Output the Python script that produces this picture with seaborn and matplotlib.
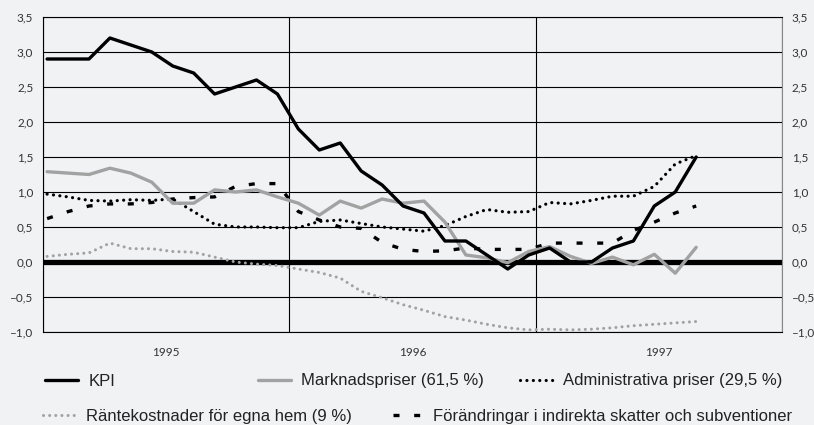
import numpy as np
import matplotlib.pyplot as plt
import seaborn as sns
from matplotlib.ticker import FixedLocator, FuncFormatter, NullFormatter

# monthly values, Jan 1995 - Aug 1997 (percent change)
kpi = [2.9, 2.9, 2.9, 3.2, 3.1, 3.0, 2.8, 2.7, 2.4, 2.5, 2.6, 2.4,
       1.9, 1.6, 1.7, 1.3, 1.1, 0.8, 0.7, 0.3, 0.3, 0.1, -0.1, 0.1,
       0.2, 0.0, 0.0, 0.2, 0.3, 0.8, 1.0, 1.5]
marknad = [1.29, 1.27, 1.25, 1.34, 1.27, 1.14, 0.84, 0.84, 1.03, 1.00, 1.03, 0.93,
           0.84, 0.67, 0.87, 0.77, 0.90, 0.84, 0.87, 0.57, 0.10, 0.06, -0.01, 0.15,
           0.22, 0.08, -0.02, 0.07, -0.04, 0.11, -0.16, 0.21]
admin = [0.97, 0.93, 0.88, 0.87, 0.89, 0.88, 0.90, 0.72, 0.54, 0.50, 0.50, 0.49,
         0.49, 0.58, 0.60, 0.55, 0.50, 0.47, 0.44, 0.52, 0.65, 0.75, 0.71, 0.72,
         0.85, 0.83, 0.88, 0.94, 0.94, 1.08, 1.40, 1.52]
ranta = [0.08, 0.11, 0.13, 0.27, 0.19, 0.19, 0.15, 0.14, 0.07, 0.00, -0.03, -0.05,
         -0.10, -0.15, -0.23, -0.42, -0.51, -0.61, -0.69, -0.78, -0.83, -0.89, -0.94, -0.97,
         -0.96, -0.97, -0.96, -0.94, -0.91, -0.89, -0.87, -0.85]
skatter = [0.62, 0.72, 0.80, 0.83, 0.83, 0.85, 0.90, 0.92, 0.93, 1.08, 1.12, 1.12,
           0.72, 0.60, 0.50, 0.48, 0.28, 0.18, 0.15, 0.16, 0.20, 0.18, 0.18, 0.18,
           0.27, 0.27, 0.27, 0.27, 0.45, 0.57, 0.70, 0.80]

years = ['1995', '1996', '1997']
labels = ['KPI', 'Marknadspriser (61,5 %)', 'Administrativa priser (29,5 %)',
          'Räntekostnader för egna hem (9 %)',
          'Förändringar i indirekta skatter och subventioner']

BG = '#f1f2f4'
GRAY = '#a2a2a2'

sns.set_style('white')
plt.rcParams['font.family'] = ['Lato', 'DejaVu Sans']

W, H = 814, 425
fig = plt.figure(figsize=(W / 100, H / 100), dpi=100, facecolor=BG)
ax = fig.add_axes([43 / W, 1 - 332 / H, (782 - 43) / W, (332 - 17) / H], facecolor=BG)

# category axis of the months sits on a year grid of 12 units per year
month_idx = np.arange(len(kpi))
xpos = 0.2 + month_idx * 1.02

ax.axhline(0, color='black', lw=3.8, zorder=1.5)

dot = dict(linestyle=(0, (0.01, 2.0)), dash_capstyle='round')
styles = [
    (ranta, dict(color=GRAY, lw=2.2, **dot)),
    (skatter, dict(color='black', lw=2.4, linestyle=(0, (1.8, 4.4)), dash_capstyle='butt')),
    (admin, dict(color='black', lw=2.3, **dot)),
    (marknad, dict(color=GRAY, lw=2.4, linestyle='-')),
    (kpi, dict(color='black', lw=2.4, linestyle='-')),
]
handles = {}
for name, (vals, kw) in zip([labels[3], labels[4], labels[2], labels[1], labels[0]], styles):
    sns.lineplot(x=xpos, y=vals, ax=ax, zorder=3, **kw)
    handles[name] = ax.lines[-1]

ax.set_xlim(0, 36)
ax.set_ylim(-1.0, 3.5)
ax.set_yticks(np.arange(-1.0, 3.51, 0.5))
ax.yaxis.set_major_formatter(FuncFormatter(lambda v, p: f'{v:.1f}'.replace('.', ',').replace('-', '–')))
ax.set_xticks([0, 12, 24, 36])
ax.xaxis.set_major_formatter(NullFormatter())
ax.xaxis.set_minor_locator(FixedLocator([6, 18, 30]))
ax.set_xticklabels(years, minor=True)

ax.grid(True, which='major', color='black', lw=0.8)
ax.set_axisbelow(True)
ax.tick_params(axis='x', which='major', length=6.5, width=0.8, color='black', direction='out')
ax.tick_params(axis='x', which='minor', length=0, pad=11, labelsize=8.5, labelcolor='#333333')
ax.tick_params(axis='y', length=0, pad=7, labelsize=8.5, labelcolor='#333333',
               left=True, right=True, labelleft=True, labelright=True)

for side in ['top', 'bottom', 'left']:
    ax.spines[side].set_color('black')
    ax.spines[side].set_linewidth(0.8)
ax.spines['right'].set_color('#888888')
ax.spines['right'].set_linewidth(0.8)

# legend entries laid out like the original, two rows
legend_pos = [(labels[0], 45, 381, 2.0), (labels[1], 258, 381, 2.0), (labels[2], 520, 381, 2.0),
              (labels[3], 43, 416, 2.0), (labels[4], 393, 416, 1.8)]
for name, px, py, hl in legend_pos:
    leg = fig.legend([handles[name]], [name], loc='center left',
                     bbox_to_anchor=(px / W, 1 - py / H), frameon=False,
                     borderpad=0, borderaxespad=0, handlelength=hl, handletextpad=0.6,
                     prop={'family': ['Liberation Sans', 'DejaVu Sans'], 'size': 12})
    for t in leg.get_texts():
        t.set_color('#222222')

fig.savefig('out.png', dpi=100, facecolor=BG)
